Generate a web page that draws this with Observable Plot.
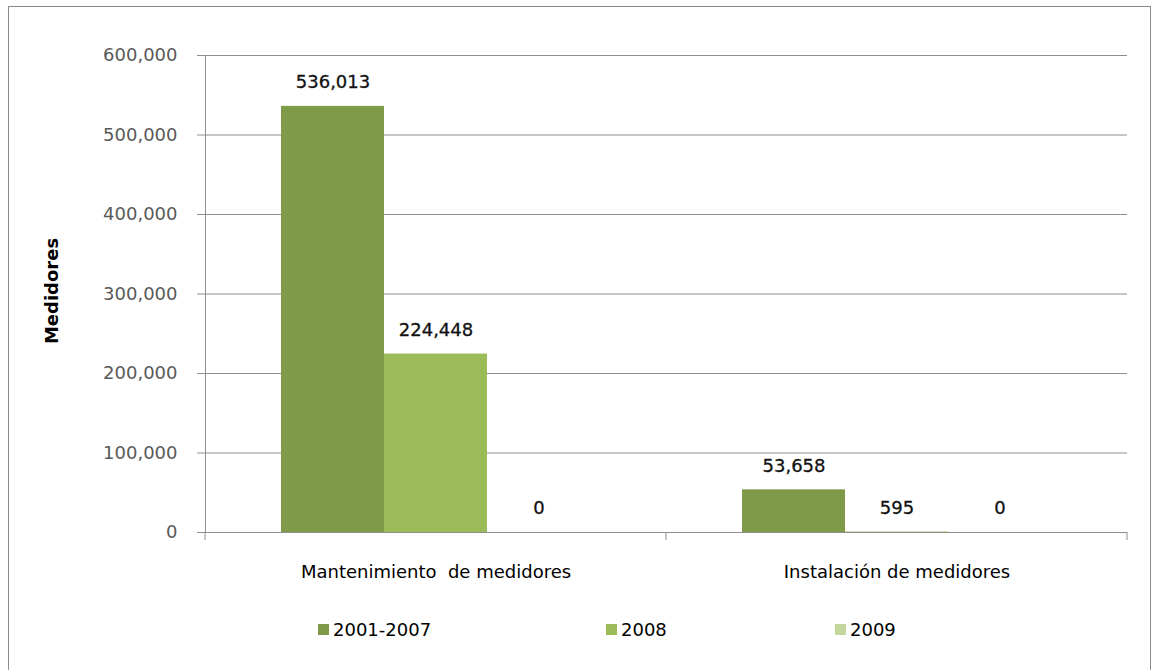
<!DOCTYPE html>
<html>
<head>
<meta charset="utf-8">
<script src="https://cdn.jsdelivr.net/npm/d3@7"></script>
<script src="https://cdn.jsdelivr.net/npm/@observablehq/plot@0.6"></script>
<style>
  html, body { margin: 0; padding: 0; background: #fff; }
  #wrap { position: relative; width: 1154px; height: 670px; overflow: hidden; font-family: "DejaVu Sans", sans-serif; }
  #frame { position: absolute; left: 8px; top: 6px; width: 1143px; height: 720px; border: 1px solid #8c8c8c; box-sizing: border-box; }
  #chart { position: absolute; left: 0; top: 0; }
  #legend { position: absolute; left: 0; top: 600px; width: 1154px; height: 60px; }
  .item { position: absolute; top: 19px; display: flex; align-items: center; font-size: 18px; color: #000; }
  .sw { width: 11px; height: 11px; margin-right: 4px; }
</style>
</head>
<body>
<div id="wrap">
  <div id="frame"></div>
  <div id="chart"></div>
  <div id="legend"></div>
</div>
<script>
const categories = ["Mantenimiento  de medidores", "Instalación de medidores"];
const series = ["2001-2007", "2008", "2009"];
const mantenimiento = [536013, 224448, 0];
const instalacion = [53658, 595, 0];
const colors = ["#7f9a48", "#9bbb59", "#c3d69b"];
const yTicks = [0, 100000, 200000, 300000, 400000, 500000, 600000];
const yLabel = "Medidores";

const seriesByCategory = [mantenimiento, instalacion];
const data = [];
categories.forEach((c, ci) => series.forEach((s, si) => data.push({category: c, series: s, value: seriesByCategory[ci][si]})));

const fmt = d3.format(",");
const gridColor = "#8e8e8e";

const plot = Plot.plot({
  width: 1154,
  height: 600,
  marginLeft: 204,
  marginRight: 27,
  marginTop: 55,
  marginBottom: 68,
  style: {background: "transparent", fontFamily: "DejaVu Sans, sans-serif"},
  fx: {domain: categories, padding: 0, label: null},
  x: {domain: series, paddingInner: 0, paddingOuter: 0.72, axis: null},
  y: {domain: [0, 600000], axis: null},
  color: {domain: series, range: colors},
  marks: [
    Plot.gridY(yTicks, {stroke: gridColor, strokeOpacity: 1, strokeWidth: 1}),
    Plot.axisY(yTicks, {tickSize: 8, tickPadding: 20, tickFormat: fmt, stroke: gridColor, fill: "#595959", fontSize: 18, label: null}),
    Plot.axisFx({anchor: "bottom", tickSize: 0, tickPadding: 33, fontSize: 18, fill: "#000", label: null}),
    Plot.barY(data, {fx: "category", x: "series", y: "value", fill: "series"}),
    Plot.text(data, {fx: "category", x: "series", y: "value", text: d => fmt(d.value), dy: -24, fontSize: 18, fill: "#111", stroke: "#111", strokeWidth: 0.3}),
    Plot.ruleY([0], {stroke: gridColor, strokeWidth: 1.2}),
    Plot.frame({anchor: "left", stroke: gridColor, facet: "super"}),
    Plot.text([yLabel], {frameAnchor: "left", textAnchor: "middle", rotate: -90, dx: -153, dy: -3, fontSize: 18, fontWeight: "bold", fill: "#000", facet: "super"})
  ]
});
document.getElementById("chart").appendChild(plot);

// small category-boundary ticks below the horizontal axis
const fxs = plot.scale("fx");
const ys = plot.scale("y");
const y0 = ys.apply(0);
const svg = d3.select(plot);
const bounds = categories.map(c => fxs.apply(c)).concat([fxs.apply(categories[categories.length - 1]) + fxs.bandwidth]);
svg.append("g").selectAll("line").data(bounds).join("line")
  .attr("x1", d => d).attr("x2", d => d)
  .attr("y1", y0).attr("y2", y0 + 8)
  .attr("stroke", gridColor);

// legend
const legendX = [318, 606, 835];
const legend = d3.select("#legend");
series.forEach((s, i) => {
  const it = legend.append("div").attr("class", "item").style("left", legendX[i] + "px");
  it.append("div").attr("class", "sw").style("background", colors[i]);
  it.append("span").text(s);
});
</script>
</body>
</html>
